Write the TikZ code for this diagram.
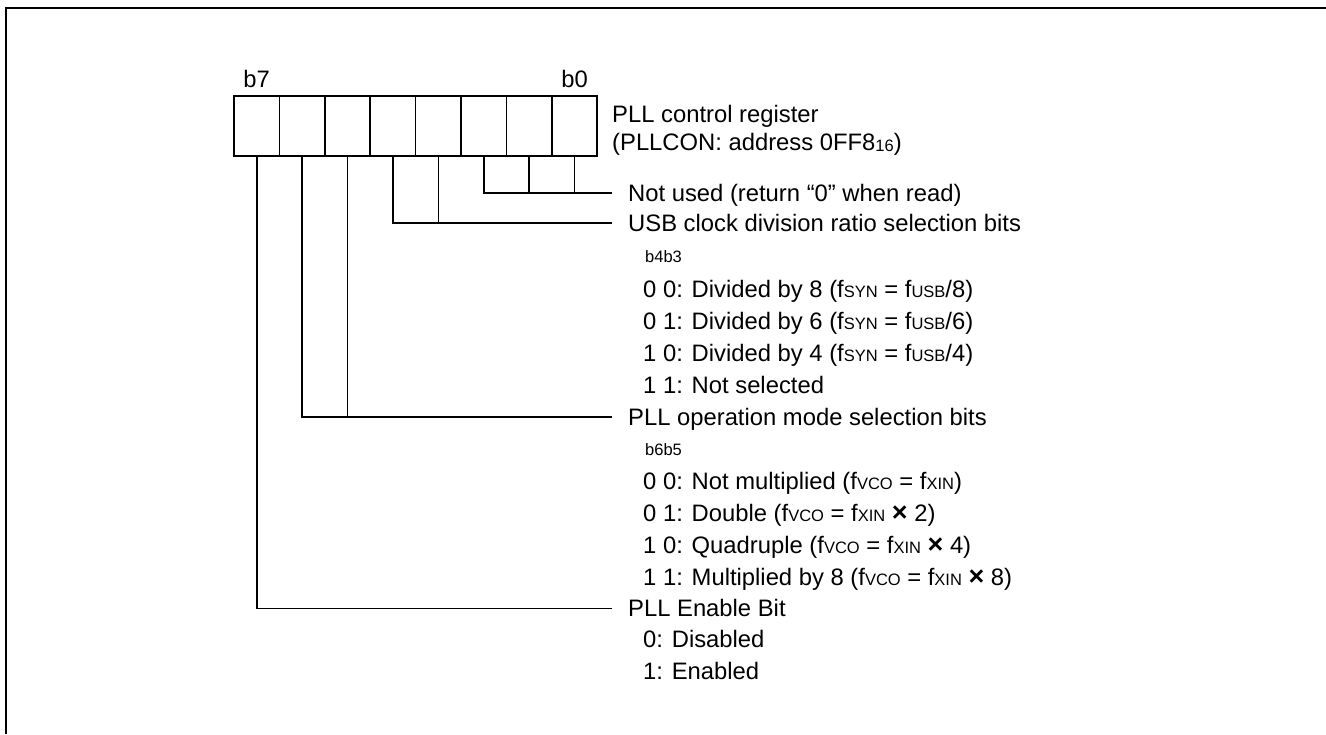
\documentclass[tikz,border=0pt]{standalone}
\usepackage{fontspec}
\setmainfont{Liberation Sans}
\newcommand{\sm}[1]{{\fontsize{16.5}{18}\selectfont #1}}
\newcommand{\tms}{{\fontsize{27}{28}\selectfont\bfseries ×}}

\begin{document}
\begin{tikzpicture}[
  x=1pt,
  y=-1pt,
  every node/.style={inner sep=0pt},
  frame/.style={line width=2.4pt},
  cell/.style={draw, line width=1.6pt, minimum width=45.4pt, minimum height=60pt},
  wire/.style={line width=1.6pt},
  txt/.style={anchor=base west, font=\fontsize{23.8}{26}\selectfont},
  bitlbl/.style={anchor=base west, font=\fontsize{16.5}{18}\selectfont}
]
  \useasboundingbox (0,0) rectangle (1326,734);

  % ---- outer frame (cut by the page edge) ----
  \draw[frame] (6,734) -- (6,8) -- (1326,8);

  % ---- register cells, b7 on the left ----
  \foreach \i in {0,...,7}
    \node[cell] (b\i) at ({256.7+45.4*(7-\i)},126) {};
  \node[txt, anchor=base] (lb7) at ([yshift=7.5pt]b7.north) {b7};
  \node[txt, anchor=base] (lb0) at ([yshift=7.5pt]b0.north) {b0};

  % ---- register name ----
  \node[txt] (regname) at (612,122) {PLL control register};
  \node[txt] (regaddr) at (612,150) {(PLLCON: address 0FF8\raisebox{-1.5pt}{\sm{16}})};

  % ---- bit groups ----
  \coordinate (nu)  at (612,193);
  \coordinate (usb) at (612,223);
  \coordinate (opm) at (612,417);
  \coordinate (ena) at (612,608.5);

  \draw[wire] (b2.south) |- (nu);
  \draw[wire] (b1.south) -- (b1.south |- nu);
  \draw[wire] (b0.south) -- (b0.south |- nu);

  \draw[wire] (b4.south) |- (usb);
  \draw[wire] (b3.south) -- (b3.south |- usb);

  \draw[wire] (b6.south) |- (opm);
  \draw[wire] (b5.south) -- (b5.south |- opm);

  \draw[wire] (b7.south) |- (ena);

  % ---- descriptions ----
  \node[txt] (notused) at (628,201.5) {Not used (return “0” when read)};

  \node[txt] (usbdiv) at (628,231.5) {USB clock division ratio selection bits};
  \node[bitlbl] (usbhd) at (645,262) {b4b3};
  \node[txt] (usb0) at (643,297.5) {0 0: Divided by 8 (f\sm{SYN} = f\sm{USB}/8)};
  \node[txt] (usb1) at (643,329.5) {0 1: Divided by 6 (f\sm{SYN} = f\sm{USB}/6)};
  \node[txt] (usb2) at (643,361.5) {1 0: Divided by 4 (f\sm{SYN} = f\sm{USB}/4)};
  \node[txt] (usb3) at (643,393.5) {1 1: Not selected};

  \node[txt] (pllmode) at (628,425.5) {PLL operation mode selection bits};
  \node[bitlbl] (modehd) at (645,455) {b6b5};
  \node[txt] (mode0) at (643,489.5) {0 0: Not multiplied (f\sm{VCO} = f\sm{XIN})};
  \node[txt] (mode1) at (643,521.5) {0 1: Double (f\sm{VCO} = f\sm{XIN} \tms{} 2)};
  \node[txt] (mode2) at (643,553.5) {1 0: Quadruple (f\sm{VCO} = f\sm{XIN} \tms{} 4)};
  \node[txt] (mode3) at (643,585.5) {1 1: Multiplied by 8 (f\sm{VCO} = f\sm{XIN} \tms{} 8)};

  \node[txt] (pllen) at (628,616.5) {PLL Enable Bit};
  \node[txt] (en0) at (643,647.5) {0: Disabled};
  \node[txt] (en1) at (643,679) {1: Enabled};
\end{tikzpicture}
\end{document}
